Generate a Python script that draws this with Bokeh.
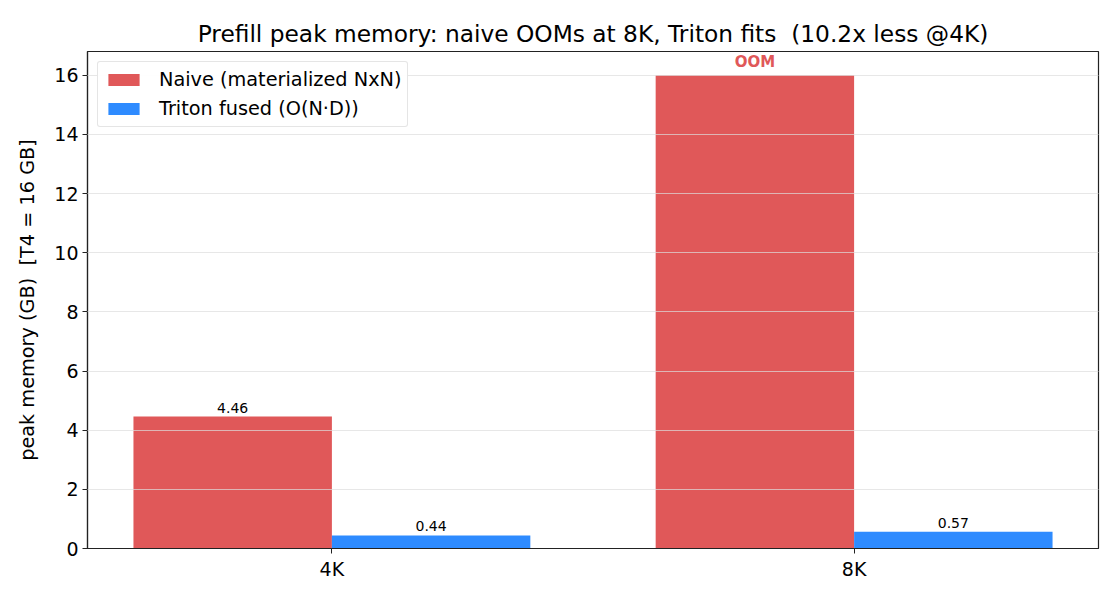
import numpy as np
from bokeh.plotting import figure
from bokeh.models import ColumnDataSource, FixedTicker, Range1d, Legend, LegendItem, LabelSet
from bokeh.core.properties import value
from bokeh.transform import dodge
from bokeh.embed import file_html
from bokeh.resources import INLINE

categories = ["4K", "8K"]
naive_values = [4.46, 16.0]
naive_labels = ["4.46", "OOM"]
triton_values = [0.44, 0.57]
triton_labels = ["0.44", "0.57"]
y_ticks = [0, 2, 4, 6, 8, 10, 12, 14, 16]

RED = "#e05859"
BLUE = "#2e8bff"
FONT = "DejaVu Sans"
bar_w = 0.38

idx = list(range(len(categories)))
src = ColumnDataSource(dict(
    x=idx,
    naive=naive_values, naive_lab=naive_labels,
    triton=triton_values, triton_lab=triton_labels,
    naive_col=["#000000" if l != "OOM" else RED for l in naive_labels],
    naive_style=["normal" if l != "OOM" else "bold" for l in naive_labels],
    naive_size=["14px" if l != "OOM" else "15px" for l in naive_labels],
))

p = figure(width=1104, height=586, output_backend="svg", toolbar_location=None,
           x_range=Range1d(-0.468, 1.468), y_range=Range1d(0, 16.8),
           min_border_left=87, min_border_right=6, min_border_top=51, min_border_bottom=38)

p.title.text = "Prefill peak memory: naive OOMs at 8K, Triton fits \u00a0(10.2x less @4K)"
p.title.align = "center"
p.title.text_font = FONT
p.title.text_font_size = "23.3px"
p.title.text_font_style = "normal"
p.title.text_color = "#000000"
p.title.standoff = 9

r1 = p.vbar(x=dodge("x", -bar_w / 2, range=p.x_range), top="naive", width=bar_w, source=src,
            fill_color=RED, line_color=None)
r2 = p.vbar(x=dodge("x", bar_w / 2, range=p.x_range), top="triton", width=bar_w, source=src,
            fill_color=BLUE, line_color=None)

l1 = LabelSet(x=dodge("x", -bar_w / 2, range=p.x_range), y="naive", text="naive_lab", source=src,
              text_align="center", text_baseline="bottom", y_offset=4,
              text_font_size="naive_size", text_font=value(FONT), text_color="naive_col",
              text_font_style="naive_style")
l2 = LabelSet(x=dodge("x", bar_w / 2, range=p.x_range), y="triton", text="triton_lab", source=src,
              text_align="center", text_baseline="bottom", y_offset=4,
              text_font_size="14px", text_font=value(FONT), text_color="#000000")
p.add_layout(l1)
p.add_layout(l2)

p.xaxis.ticker = FixedTicker(ticks=idx)
p.xaxis.major_label_overrides = {i: c for i, c in zip(idx, categories)}
p.yaxis.ticker = FixedTicker(ticks=y_ticks)
p.yaxis.axis_label = "peak memory (GB) \u00a0[T4 = 16 GB]"
for ax in (p.xaxis, p.yaxis):
    ax.major_label_text_font = FONT
    ax.major_label_text_font_size = "19px"
    ax.major_label_text_color = "#000000"
    ax.axis_label_text_font = FONT
    ax.axis_label_text_font_size = "19.3px"
    ax.axis_label_text_font_style = "normal"
    ax.axis_label_text_color = "#000000"
    ax.minor_tick_line_color = None
    ax.major_tick_out = 5
    ax.major_tick_in = 0
    ax.major_tick_line_color = "#222222"
    ax.axis_line_color = "#222222"
    ax.axis_line_width = 1.2
p.xaxis.major_label_standoff = 4
p.yaxis.major_label_standoff = 4
p.yaxis.axis_label_standoff = 12
p.xgrid.grid_line_color = None
p.ygrid.grid_line_color = "#dddddd"
p.ygrid.grid_line_alpha = 0.7
p.ygrid.level = "overlay"
p.outline_line_color = "#222222"
p.outline_line_width = 1.2
p.outline_line_alpha = 1.0

legend = Legend(items=[LegendItem(label="Naive (materialized NxN)", renderers=[r1]),
                       LegendItem(label="Triton fused (O(N·D))", renderers=[r2])],
                location="top_left")
legend.label_text_font = FONT
legend.label_text_font_size = "19.3px"
legend.label_text_color = "#000000"
legend.border_line_color = "#cccccc"
legend.border_line_width = 1
legend.border_radius = 3
legend.glyph_width = 39
legend.glyph_height = 15
legend.spacing = 6
legend.padding = 6
legend.margin = 10
legend.label_standoff = 16
legend.label_height = 22
p.add_layout(legend)

open("out.html", "w").write(file_html(p, INLINE))
